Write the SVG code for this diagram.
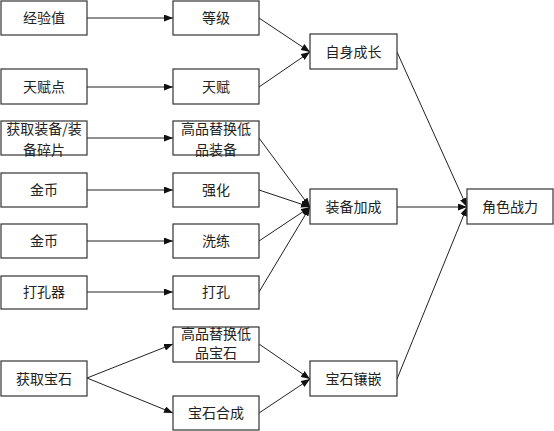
<svg xmlns="http://www.w3.org/2000/svg" width="554" height="431" viewBox="0 0 554 431">
<style>
.b{fill:#fff;stroke:#333;stroke-width:1.2}
.t{font-family:"Noto Sans CJK SC","Noto Sans",sans-serif;font-size:14px;fill:#222;text-anchor:middle}
.c{fill:none;stroke:#222;stroke-width:1;marker-end:url(#a)}
</style>
<defs>
<marker id="a" markerWidth="9" markerHeight="7" refX="9" refY="3.5" orient="auto" markerUnits="userSpaceOnUse">
<path d="M0,0 L9,3.5 L0,7 Z" fill="#111"/>
</marker>
</defs>
<rect width="554" height="431" fill="#fff"/>
<g id="connectors">
<line class="c" x1="87" y1="18" x2="173" y2="18"/>
<line class="c" x1="87" y1="87" x2="173" y2="87"/>
<line class="c" x1="87" y1="138" x2="173" y2="138"/>
<line class="c" x1="87" y1="190" x2="173" y2="190"/>
<line class="c" x1="87" y1="241" x2="173" y2="241"/>
<line class="c" x1="87" y1="292" x2="173" y2="292"/>
<line class="c" x1="87" y1="378" x2="173" y2="344"/>
<line class="c" x1="87" y1="378" x2="173" y2="413"/>
<line class="c" x1="259" y1="18" x2="310" y2="52"/>
<line class="c" x1="259" y1="87" x2="310" y2="52"/>
<line class="c" x1="259" y1="138" x2="310" y2="207"/>
<line class="c" x1="259" y1="190" x2="310" y2="207"/>
<line class="c" x1="259" y1="241" x2="310" y2="207"/>
<line class="c" x1="259" y1="292" x2="310" y2="207"/>
<line class="c" x1="259" y1="344" x2="310" y2="379"/>
<line class="c" x1="259" y1="413" x2="310" y2="379"/>
<line class="c" x1="397" y1="52" x2="467" y2="207"/>
<line class="c" x1="397" y1="207" x2="467" y2="207"/>
<line class="c" x1="397" y1="379" x2="467" y2="207"/>
</g>
<g id="n1"><rect class="b" x="1" y="1" width="86" height="34"/><text class="t" x="44" y="23">经验值</text></g>
<g id="n2"><rect class="b" x="1" y="69" width="86" height="35"/><text class="t" x="44" y="91.5">天赋点</text></g>
<g id="n3"><rect class="b" x="1" y="121" width="86" height="34"/><text class="t" x="44" y="134">获取装备/装</text><text class="t" x="44" y="155">备碎片</text></g>
<g id="n4"><rect class="b" x="1" y="173" width="86" height="34"/><text class="t" x="44" y="195">金币</text></g>
<g id="n5"><rect class="b" x="1" y="224" width="86" height="34"/><text class="t" x="44" y="246">金币</text></g>
<g id="n6"><rect class="b" x="1" y="276" width="86" height="33"/><text class="t" x="44" y="297">打孔器</text></g>
<g id="n7"><rect class="b" x="1" y="361" width="86" height="35"/><text class="t" x="44" y="383.5">获取宝石</text></g>
<g id="m1"><rect class="b" x="173" y="1" width="86" height="34"/><text class="t" x="216" y="23">等级</text></g>
<g id="m2"><rect class="b" x="173" y="69" width="86" height="35"/><text class="t" x="216" y="91.5">天赋</text></g>
<g id="m3"><rect class="b" x="173" y="121" width="86" height="34"/><text class="t" x="216" y="134">高品替换低</text><text class="t" x="216" y="155">品装备</text></g>
<g id="m4"><rect class="b" x="173" y="173" width="86" height="34"/><text class="t" x="216" y="195">强化</text></g>
<g id="m5"><rect class="b" x="173" y="224" width="86" height="34"/><text class="t" x="216" y="246">洗练</text></g>
<g id="m6"><rect class="b" x="173" y="276" width="86" height="33"/><text class="t" x="216" y="297">打孔</text></g>
<g id="m7"><rect class="b" x="173" y="327" width="86" height="35"/><text class="t" x="216" y="339">高品替换低</text><text class="t" x="216" y="358">品宝石</text></g>
<g id="m8"><rect class="b" x="173" y="396" width="86" height="34"/><text class="t" x="216" y="418">宝石合成</text></g>
<g id="r1"><rect class="b" x="310" y="34" width="87" height="35"/><text class="t" x="353.5" y="56.5">自身成长</text></g>
<g id="r2"><rect class="b" x="310" y="189" width="87" height="35"/><text class="t" x="353.5" y="211.5">装备加成</text></g>
<g id="r3"><rect class="b" x="310" y="361" width="87" height="35"/><text class="t" x="353.5" y="383.5">宝石镶嵌</text></g>
<g id="f"><rect class="b" x="467" y="189" width="86" height="35"/><text class="t" x="510" y="211.5">角色战力</text></g>
</svg>
